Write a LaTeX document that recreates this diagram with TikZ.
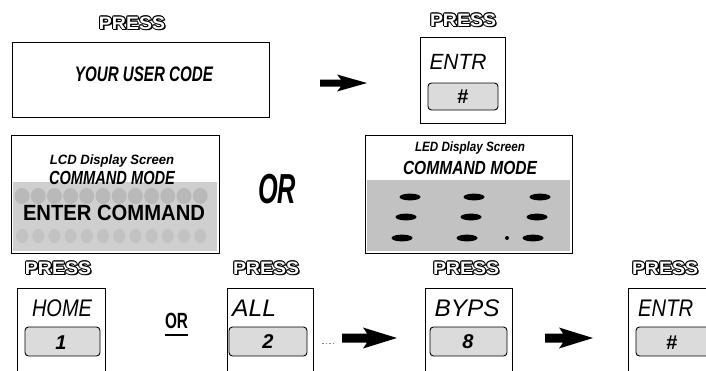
\documentclass[tikz,border=0pt]{standalone}
\usepackage{fontspec}
\setmainfont{Liberation Sans}
\newfontfamily\pressfont{Liberation Sans}
\usetikzlibrary{calc}
\newcommand\fitw[2]{\resizebox{#1}{\height}{#2}}
\newcommand\fsz[1]{\fontsize{#1}{#1}\selectfont}
% fat arrow from coordinate #1 to coordinate #2: shaft half-width #3, head half-width #4, head length #5
\newcommand\fatarrow[5]{%
  \fill[black] ($(#1)+(0,-#3)$) -- ($(#2)+(-#5,-#3)$) -- ($(#2)+(-#5-4,-#4)$) -- (#2)
    -- ($(#2)+(-#5-4,#4)$) -- ($(#2)+(-#5,#3)$) -- ($(#1)+(0,#3)$) -- cycle;}
\tikzset{
  pics/pressword/.style={code={
    \foreach \a in {0,45,...,315} \node[presstxt,text=black] at (\a:1pt) {\fitw{66pt}{PRESS}};
    \node[presstxt,text=black] at (1.6pt,-1.6pt) {\fitw{66pt}{PRESS}};
    \node[presstxt,text=white] (-t) {\fitw{66pt}{PRESS}};
  }}
}
\begin{document}
\begin{tikzpicture}[x=1pt,y=-1pt,
  outer/.style={draw=black,line width=0.8pt},
  keybox/.style={draw=black,line width=0.9pt,rounded corners=3.5pt,fill=gray!28},
  lbl/.style={inner sep=0pt,font=\itshape\fsz{24}},
  blbl/.style={inner sep=0pt,font=\bfseries\itshape},
  digit/.style={inner sep=0pt,font=\bfseries\itshape\fsz{20}},
  presstxt/.style={inner sep=0pt,font=\pressfont\bfseries\fsz{18}},
]
\useasboundingbox (0,0) rectangle (706,370);
\clip (0,0) rectangle (706,370);

% ---------- top row
\pic (p1) at (132,23) {pressword};
\draw[outer] (12,42) rectangle (269,117);
\node[blbl,font=\bfseries\itshape\fsz{21}] (uc) at (144,74) {\fitw{138pt}{YOUR USER CODE}};
\coordinate (a0s) at (320,83);
\coordinate (a0e) at (367,83);
\fatarrow{a0s}{a0e}{3.5}{8.5}{26}
\pic (p2) at (463,20) {pressword};
\draw[outer] (420,37) rectangle (505,123);
\node[lbl,font=\itshape\fsz{22}] (e1) at (458,61.5) {\fitw{57pt}{ENTR}};
\draw[keybox] (428,83) rectangle (498,110);
\node[inner sep=0pt,font=\bfseries\fsz{20}] (h1) at (463,97) {\#};

% ---------- LCD
\draw[outer] (11,135) rectangle (219,253);
\fill[gray!38] (13,182) rectangle (217,251);
\foreach \i in {0,...,11} \fill[gray!55] (22+\i*16.2,196) ellipse (7.5 and 8);
\foreach \i in {0,...,11} \fill[gray!48] (22+\i*16.2,236) ellipse (6 and 7);
\node[blbl,font=\bfseries\itshape\fsz{13.5}] (lcd1) at (112,161) {\fitw{124pt}{LCD Display Screen}};
\node[blbl,font=\bfseries\itshape\fsz{19}] (lcd2) at (112,178) {\fitw{126pt}{COMMAND MODE}};
\node[inner sep=0pt,font=\bfseries\fsz{22}] (lcd3) at (114,213) {\fitw{182pt}{ENTER COMMAND}};

\node[blbl,font=\bfseries\itshape\fsz{42}] (or1) at (277,189) {\fitw{38pt}{OR}};

% ---------- LED
\draw[outer] (365,135) rectangle (572,253);
\fill[gray!48] (367,180) rectangle (570,251);
\node[blbl,font=\bfseries\itshape\fsz{13.5}] (led1) at (470,148) {\fitw{110pt}{LED Display Screen}};
\node[blbl,font=\bfseries\itshape\fsz{19}] (led2) at (470,168) {\fitw{134pt}{COMMAND MODE}};
\foreach \x/\y in {410/197,474/197,540/197,406/217,471/217,537/217,402/238,467/238,533/238}
  \fill[black] (\x,\y) ellipse (10.5 and 3.4);
\fill[black] (507,238) circle (2);

% ---------- bottom row
\pic (p3) at (58,268) {pressword};
\pic (p4) at (266,268) {pressword};
\pic (p5) at (466,268) {pressword};
\pic (p6) at (665,268) {pressword};

\draw[outer] (17,288) rectangle (105,395);
\node[lbl] (t1) at (62,308) {\fitw{60pt}{HOME}};
\draw[keybox] (25,327) rectangle (100,356);
\node[digit] (d1) at (61,343) {1};

\node[inner sep=0pt,font=\bfseries\fsz{22}] (or2) at (176.5,321) {\fitw{23pt}{OR}};
\draw[line width=1.8pt] (165,335) -- (188,335);

\draw[outer] (227,288) rectangle (313,395);
\node[lbl,anchor=west] (t2) at (232,308) {\fitw{44pt}{ALL}};
\draw[keybox] (229,327) rectangle (307,356);
\node[digit] (d2) at (268,342) {2};
\draw[gray,line width=1pt,dash pattern=on 1.5pt off 2pt] (322,343) -- (334,343);

\coordinate (a1s) at (342,338);
\coordinate (a1e) at (397,338);
\fatarrow{a1s}{a1e}{4.5}{10.5}{30}

\draw[outer] (425,288) rectangle (512,395);
\node[lbl] (t3) at (467,308) {\fitw{65pt}{BYPS}};
\draw[keybox] (430,327) rectangle (507,356);
\node[digit] (d3) at (468,342) {8};

\coordinate (a2s) at (545,338);
\coordinate (a2e) at (593,338);
\fatarrow{a2s}{a2e}{4.5}{10.5}{30}

\draw[outer] (628,288) rectangle (730,395);
\node[lbl,anchor=west] (t4) at (638,308) {\fitw{55pt}{ENTR}};
\draw[keybox] (636,327) rectangle (730,356);
\node[inner sep=0pt,font=\bfseries\fsz{20}] (h2) at (672,343) {\#};
\end{tikzpicture}
\end{document}
